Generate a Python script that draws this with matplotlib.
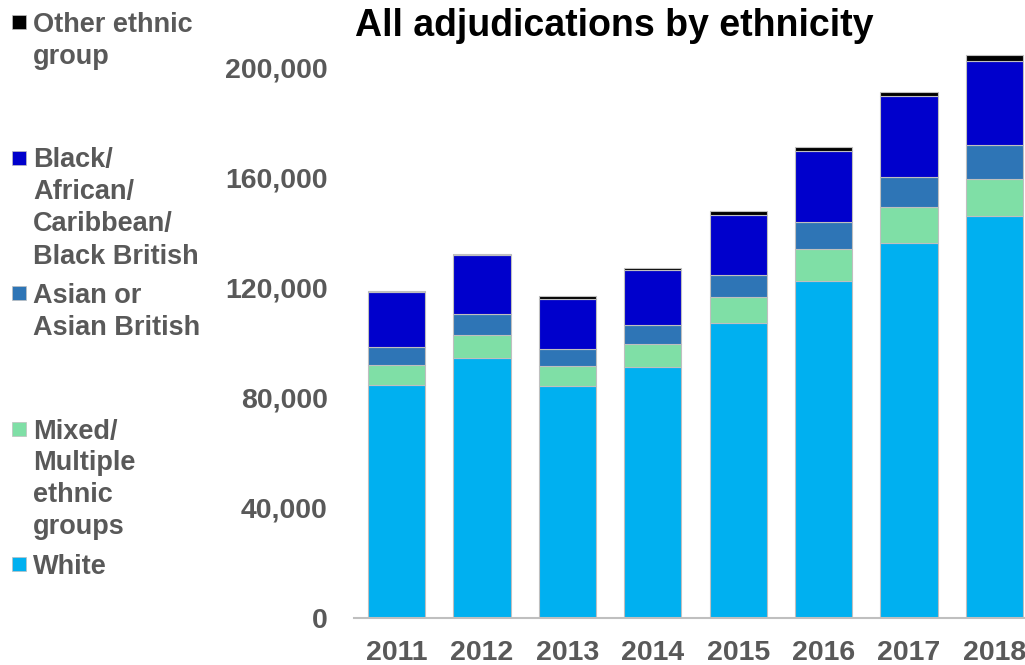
import matplotlib.pyplot as plt
import numpy as np
from matplotlib.patches import Rectangle

plt.rcParams['font.family'] = ['Liberation Sans', 'DejaVu Sans']
plt.rcParams['font.weight'] = 'bold'

years = ['2011', '2012', '2013', '2014', '2015', '2016', '2017', '2018']

white = [84600, 94400, 84100, 91100, 107000, 122300, 136200, 146000]
mixed = [7300, 8350, 7500, 8350, 9650, 11500, 13100, 13450]
asian = [6500, 7500, 6050, 7000, 7850, 9800, 10650, 12100]
black = [19950, 21550, 18150, 19850, 21900, 26000, 29600, 30600]
other = [350, 400, 1000, 700, 1450, 1450, 1450, 2300]

series = [
    ('White', white, '#00B0F0'),
    ('Mixed/\nMultiple\nethnic\ngroups', mixed, '#7FDFA6'),
    ('Asian or\nAsian British', asian, '#2E75B6'),
    ('Black/\nAfrican/\nCaribbean/\nBlack British', black, '#0000CC'),
    ('Other ethnic\ngroup', other, '#000000'),
]

grey = '#595959'

fig = plt.figure(figsize=(10.25, 6.65), dpi=100)
ax = fig.add_axes([354 / 1025, 47 / 665, 683 / 1025, 578.5 / 665])

x = np.arange(len(years))
bottom = np.zeros(len(years))
for name, vals, col in series:
    ax.bar(x, vals, 0.67, bottom=bottom, color=col, edgecolor='#BFBFBF', linewidth=0.8)
    bottom += np.array(vals)

ax.set_xlim(-0.5, 7.5)
ax.set_ylim(0, 210000)
ax.set_yticks(range(0, 200001, 40000))
ax.set_yticklabels(['{:,}'.format(v) for v in range(0, 200001, 40000)])
ax.set_xticks(x)
ax.set_xticklabels(years)
ax.tick_params(axis='both', length=0, labelsize=20.5, labelcolor=grey)
ax.tick_params(axis='y', pad=19)
ax.tick_params(axis='x', pad=16)
for s in ['top', 'right', 'left']:
    ax.spines[s].set_visible(False)
ax.spines['bottom'].set_color('#BFBFBF')
ax.spines['bottom'].set_linewidth(1.5)

fig.text(355 / 1025, 1 - 8 / 665, 'All adjudications by ethnicity', fontsize=27,
         fontweight='bold', color='black', va='top', ha='left')

# legend drawn down the left side, top entry first
for i, (name, vals, col) in enumerate(series[::-1]):
    yc = 1 - (22 + i * 135.5) / 665
    fig.add_artist(Rectangle((12 / 1025, yc - 7 / 665), 14 / 1025, 14 / 665,
                             transform=fig.transFigure, facecolor=col,
                             edgecolor='#BFBFBF', linewidth=0.5))
    fig.text(33 / 1025, yc + 10 / 665, name, fontsize=19.5, color=grey,
             va='top', ha='left', linespacing=1.3)

fig.savefig('out.png', dpi=100)
